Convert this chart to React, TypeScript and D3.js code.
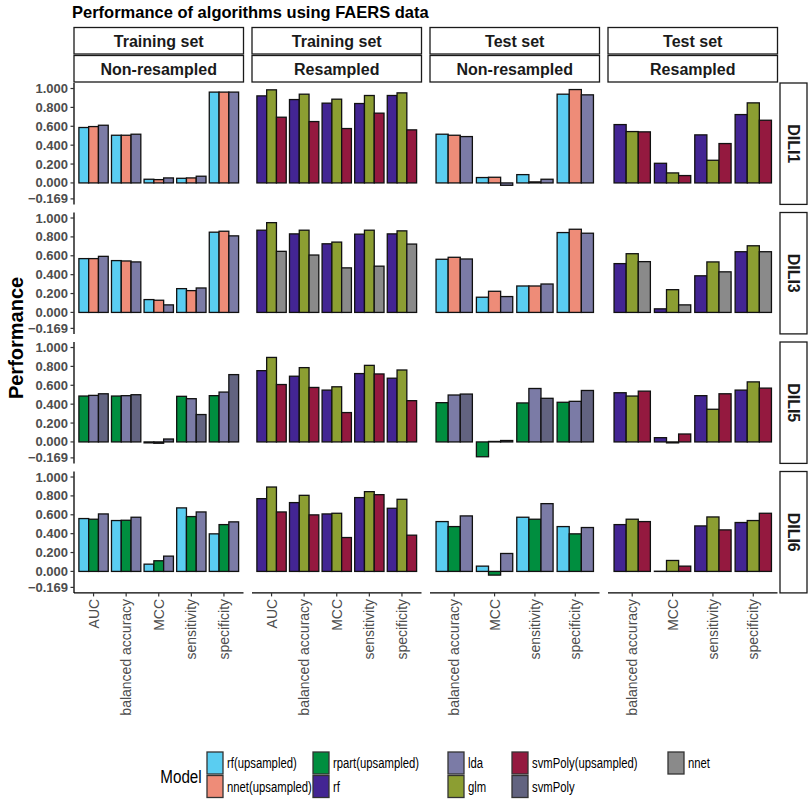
import React from 'react'
import * as d3 from 'd3'

// facet labels
const rowLabels = ['DILI1', 'DILI3', 'DILI5', 'DILI6']
const colTop = ['Training set', 'Training set', 'Test set', 'Test set']
const colBottom = ['Non-resampled', 'Resampled', 'Non-resampled', 'Resampled']

// metrics per column (free x scales)
const metricsAll = ['AUC', 'balanced accuracy', 'MCC', 'sensitivity', 'specificity']
const metricsTest = ['balanced accuracy', 'MCC', 'sensitivity', 'specificity']
const colMetrics = [metricsAll, metricsAll, metricsTest, metricsTest]

// model levels (legend order) and fills
const models = [
  'rf(upsampled)',
  'nnet(upsampled)',
  'rpart(upsampled)',
  'rf',
  'lda',
  'glm',
  'svmPoly(upsampled)',
  'svmPoly',
  'nnet',
]
const modelColors = [
  '#5ACDF1',
  '#EE8C78',
  '#008E3F',
  '#432593',
  '#7B7BA6',
  '#8C9E32',
  '#94193F',
  '#626380',
  '#8A8A8A',
]

// models shown in each panel, by row
const dili1Models = [
  ['rf(upsampled)', 'nnet(upsampled)', 'lda'],
  ['rf', 'glm', 'svmPoly(upsampled)'],
  ['rf(upsampled)', 'nnet(upsampled)', 'lda'],
  ['rf', 'glm', 'svmPoly(upsampled)'],
]
const dili3Models = [
  ['rf(upsampled)', 'nnet(upsampled)', 'lda'],
  ['rf', 'glm', 'nnet'],
  ['rf(upsampled)', 'nnet(upsampled)', 'lda'],
  ['rf', 'glm', 'nnet'],
]
const dili5Models = [
  ['rpart(upsampled)', 'lda', 'svmPoly'],
  ['rf', 'glm', 'svmPoly(upsampled)'],
  ['rpart(upsampled)', 'lda', 'svmPoly'],
  ['rf', 'glm', 'svmPoly(upsampled)'],
]
const dili6Models = [
  ['rf(upsampled)', 'rpart(upsampled)', 'lda'],
  ['rf', 'glm', 'svmPoly(upsampled)'],
  ['rf(upsampled)', 'rpart(upsampled)', 'lda'],
  ['rf', 'glm', 'svmPoly(upsampled)'],
]

// values: [panel][metric][model]
const dili1Values = [
  [[0.587, 0.597, 0.611], [0.505, 0.505, 0.516], [0.039, 0.035, 0.053], [0.049, 0.053, 0.071], [0.962, 0.962, 0.962]],
  [[0.922, 0.986, 0.696], [0.883, 0.94, 0.65], [0.845, 0.887, 0.576], [0.841, 0.926, 0.739], [0.926, 0.954, 0.562]],
  [[0.516, 0.505, 0.491], [0.057, 0.06, -0.025], [0.088, 0.011, 0.039], [0.94, 0.989, 0.933]],
  [[0.618, 0.544, 0.541], [0.208, 0.106, 0.078], [0.509, 0.24, 0.417], [0.724, 0.848, 0.664]],
]
const dili3Values = [
  [[0.57, 0.57, 0.594], [0.549, 0.545, 0.535], [0.136, 0.129, 0.08], [0.252, 0.231, 0.259], [0.85, 0.86, 0.811]],
  [[0.871, 0.951, 0.647], [0.832, 0.871, 0.608], [0.727, 0.745, 0.472], [0.829, 0.871, 0.49], [0.832, 0.864, 0.724]],
  [[0.563, 0.584, 0.566], [0.161, 0.224, 0.168], [0.28, 0.28, 0.301], [0.846, 0.881, 0.839]],
  [[0.517, 0.622, 0.538], [0.038, 0.241, 0.08], [0.388, 0.535, 0.43], [0.643, 0.706, 0.643]],
]
const dili5Values = [
  [[0.486, 0.493, 0.51], [0.486, 0.49, 0.5], [-0.01, -0.014, 0.031], [0.483, 0.458, 0.29], [0.49, 0.528, 0.713]],
  [[0.755, 0.895, 0.608], [0.696, 0.787, 0.577], [0.549, 0.584, 0.311], [0.724, 0.811, 0.72], [0.675, 0.762, 0.437]],
  [[0.416, 0.497, 0.507], [-0.157, 0.005, 0.015], [0.413, 0.566, 0.462], [0.42, 0.43, 0.545]],
  [[0.521, 0.486, 0.538], [0.045, -0.01, 0.084], [0.49, 0.346, 0.51], [0.549, 0.636, 0.57]],
]
const dili6Values = [
  [[0.56, 0.553, 0.609], [0.539, 0.542, 0.574], [0.077, 0.113, 0.162], [0.673, 0.581, 0.63], [0.398, 0.496, 0.525]],
  [[0.771, 0.894, 0.63], [0.729, 0.806, 0.599], [0.609, 0.616, 0.359], [0.782, 0.845, 0.813], [0.669, 0.764, 0.384]],
  [[0.528, 0.475, 0.588], [0.056, -0.039, 0.19], [0.574, 0.553, 0.718], [0.475, 0.398, 0.465]],
  [[0.496, 0.553, 0.528], [0.002, 0.116, 0.056], [0.482, 0.577, 0.44], [0.518, 0.539, 0.616]],
]

const rowModels = [dili1Models, dili3Models, dili5Models, dili6Models]
const rowValues = [dili1Values, dili3Values, dili5Values, dili6Values]

const yTicks = [-0.169, 0, 0.2, 0.4, 0.6, 0.8, 1]

// legend layout: columns of model names
const legendColumns = [
  ['rf(upsampled)', 'nnet(upsampled)'],
  ['rpart(upsampled)', 'rf'],
  ['lda', 'glm'],
  ['svmPoly(upsampled)', 'svmPoly'],
  ['nnet'],
]

const App: React.FC = () => {
  const width = 809
  const height = 801

  // panel grid
  const panelX0 = 74
  const panelW = 169.5
  const panelGap = 8.5
  const panelY0 = 83
  const panelH = 121.4
  const rowGap = 8.1

  const colX = (c: number) => panelX0 + c * (panelW + panelGap)
  const rowY = (r: number) => panelY0 + r * (panelH + rowGap)

  const yMin = d3.min(yTicks) as number
  const yMax = d3.max(yTicks) as number
  const pad = (yMax - yMin) * 0.05

  const fillOf = d3.scaleOrdinal<string, string>().domain(models).range(modelColors)

  const sans = 'Liberation Sans, Arial, sans-serif'
  const tickGrey = '#4D4D4D'

  const bottomY = rowY(3) + panelH

  return (
    <svg
      width={width}
      height={height}
      style={{ position: 'absolute', left: 0, top: 0, background: '#fff' }}
    >
      {/* title */}
      <text x={72} y={18} fontFamily={sans} fontWeight="bold" fontSize={16.5} fill="#000">
        Performance of algorithms using FAERS data
      </text>

      {/* top strips */}
      {colTop.map((lab, c) => (
        <g key={'st' + c}>
          <rect x={colX(c)} y={27.5} width={panelW} height={26.5} fill="#fff" stroke="#1a1a1a" strokeWidth={1.3} />
          <text x={colX(c) + panelW / 2} y={41} textAnchor="middle" dominantBaseline="central" fontFamily={sans} fontWeight="bold" fontSize={16} fill="#1a1a1a">
            {lab}
          </text>
          <rect x={colX(c)} y={55.5} width={panelW} height={26.5} fill="#fff" stroke="#1a1a1a" strokeWidth={1.3} />
          <text x={colX(c) + panelW / 2} y={69} textAnchor="middle" dominantBaseline="central" fontFamily={sans} fontWeight="bold" fontSize={16} fill="#1a1a1a">
            {colBottom[c]}
          </text>
        </g>
      ))}

      {/* right strips */}
      {rowLabels.map((lab, r) => (
        <g key={'rs' + r}>
          <rect x={780} y={rowY(r)} width={27} height={panelH} fill="#fff" stroke="#1a1a1a" strokeWidth={1.3} />
          <text
            transform={`translate(${793.5},${rowY(r) + panelH / 2}) rotate(90)`}
            textAnchor="middle"
            dominantBaseline="central"
            fontFamily={sans}
            fontWeight="bold"
            fontSize={16}
            fill="#1a1a1a"
          >
            {lab}
          </text>
        </g>
      ))}

      {/* panels */}
      {rowLabels.map((_, r) => {
        const y = d3
          .scaleLinear()
          .domain([yMin - pad, yMax + pad])
          .range([rowY(r) + panelH, rowY(r)])
        return (
          <g key={'row' + r}>
            {/* y axis on first column */}
            <line x1={panelX0} x2={panelX0} y1={rowY(r)} y2={rowY(r) + panelH} stroke="#000" strokeWidth={1.3} />
            {yTicks.map((t) => (
              <g key={'yt' + t}>
                <line x1={panelX0 - 3.5} x2={panelX0} y1={y(t)} y2={y(t)} stroke="#333" strokeWidth={1.2} />
                <text
                  x={panelX0 - 6}
                  y={y(t)}
                  dominantBaseline="central"
                  textAnchor="end"
                  fontFamily={sans}
                  fontWeight="bold"
                  fontSize={13}
                  fill={tickGrey}
                >
                  {d3.format('.3f')(t)}
                </text>
              </g>
            ))}

            {colMetrics.map((metrics, c) => {
              const x = d3
                .scaleBand()
                .domain(metrics)
                .range([colX(c), colX(c) + panelW])
                .paddingInner(0.1)
                .paddingOuter(0.15)
              const panelModels = rowModels[r][c]
              const sub = d3.scaleBand().domain(panelModels).range([0, x.bandwidth()])
              const vals = rowValues[r][c]
              return (
                <g key={'p' + c}>
                  {metrics.map((m, i) =>
                    panelModels.map((mod, j) => {
                      const v = vals[i][j]
                      const y0 = y(0)
                      const y1 = y(v)
                      return (
                        <rect
                          key={m + mod}
                          x={(x(m) as number) + (sub(mod) as number)}
                          y={Math.min(y0, y1)}
                          width={sub.bandwidth()}
                          height={Math.max(Math.abs(y1 - y0), 0.01)}
                          fill={fillOf(mod)}
                          stroke="#111"
                          strokeWidth={1.3}
                        />
                      )
                    })
                  )}
                  {/* x axis only on bottom row */}
                  {r === 3 && (
                    <g>
                      <line x1={colX(c)} x2={colX(c) + panelW} y1={bottomY} y2={bottomY} stroke="#000" strokeWidth={1.3} />
                      {metrics.map((m) => {
                        const cx = (x(m) as number) + x.bandwidth() / 2
                        return (
                          <g key={'xt' + m}>
                            <line x1={cx} x2={cx} y1={bottomY} y2={bottomY + 3.5} stroke="#333" strokeWidth={1.2} />
                            <text
                              transform={`translate(${cx},${bottomY + 6}) rotate(-90)`}
                              textAnchor="end"
                              dominantBaseline="central"
                              fontFamily={sans}
                              fontSize={14}
                              fill={tickGrey}
                            >
                              {m}
                            </text>
                          </g>
                        )
                      })}
                    </g>
                  )}
                </g>
              )
            })}
          </g>
        )
      })}

      {/* y axis title */}
      <text
        transform={`translate(${16},${(rowY(0) + bottomY) / 2}) rotate(-90)`}
        textAnchor="middle"
        dominantBaseline="central"
        fontFamily={sans}
        fontWeight="bold"
        fontSize={20}
        fill="#000"
      >
        Performance
      </text>

      {/* legend (condensed look via horizontal scaling) */}
      <text
        transform={`translate(${181},${776}) scale(0.8,1)`}
        textAnchor="middle"
        dominantBaseline="central"
        fontFamily={sans}
        fontSize={19}
        fill="#000"
      >
        Model
      </text>
      {legendColumns.map((col, ci) => {
        const kx = [207, 313, 448, 512, 668][ci]
        return col.map((mod, ri) => (
          <g key={'lg' + mod}>
            <rect x={kx} y={752 + ri * 23.5} width={16} height={22} fill={fillOf(mod)} stroke="#333" strokeWidth={1.3} />
            <text
              transform={`translate(${kx + 20},${763 + ri * 23.5}) scale(0.78,1)`}
              dominantBaseline="central"
              fontFamily={sans}
              fontSize={14.5}
              fill="#000"
            >
              {mod}
            </text>
          </g>
        ))
      })}
    </svg>
  )
}

export default App
